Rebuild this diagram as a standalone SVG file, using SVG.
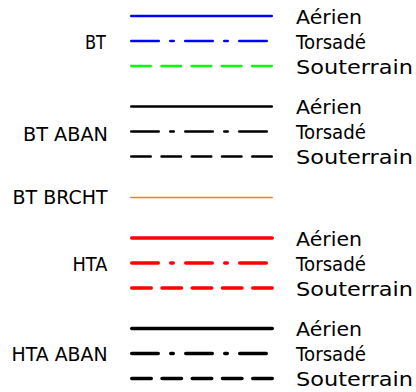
<svg xmlns="http://www.w3.org/2000/svg" width="416" height="392" viewBox="0 0 416 392">
<style>
text{font-family:"DejaVu Sans","Liberation Sans",sans-serif;font-size:19.5px;fill:#000}
.ln{fill:none;stroke-linecap:round}
.w2{stroke-width:2.5}
.w3{stroke-width:3.5}
.w1{stroke-width:1.5}
.blue{stroke:#0000FF}
.green{stroke:#00FF00}
.black{stroke:#000}
.red{stroke:#FF0000}
.orange{stroke:#FF7F00}
.t2{stroke-dasharray:27.5 11.5 3.5 11.5}
.s2{stroke-dasharray:19.5 10.75}
.t3{stroke-dasharray:26.5 12.5 2.5 12.5}
.s3{stroke-dasharray:19.5 10.75}
</style>
<rect width="416" height="392" fill="#fff"/>
<g id="bt">
<text x="85" y="49" textLength="21" lengthAdjust="spacingAndGlyphs">BT</text>
<path class="ln w2 blue" d="M131.25 16H271.75"/>
<path class="ln w2 blue t2" d="M131.25 41H266.75"/>
<path class="ln w2 green s2" d="M131.25 66H271.75"/>
<text x="296" y="23.5" textLength="66" lengthAdjust="spacingAndGlyphs">Aérien</text>
<text x="296" y="48.5" textLength="70" lengthAdjust="spacingAndGlyphs">Torsadé</text>
<text x="296" y="73.5" textLength="117" lengthAdjust="spacingAndGlyphs">Souterrain</text>
</g>
<g id="bt-aban">
<text x="23" y="140.5" textLength="85" lengthAdjust="spacingAndGlyphs">BT ABAN</text>
<path class="ln w2 black" d="M131.25 106.5H271.75"/>
<path class="ln w2 black t2" d="M131.25 131.5H266.75"/>
<path class="ln w2 black s2" d="M131.25 156.5H271.75"/>
<text x="296" y="114" textLength="66" lengthAdjust="spacingAndGlyphs">Aérien</text>
<text x="296" y="139" textLength="70" lengthAdjust="spacingAndGlyphs">Torsadé</text>
<text x="296" y="164" textLength="117" lengthAdjust="spacingAndGlyphs">Souterrain</text>
</g>
<g id="bt-brcht">
<text x="12.5" y="203.5" textLength="95" lengthAdjust="spacingAndGlyphs">BT BRCHT</text>
<path class="ln w1 orange" d="M130.75 197.5H272.25"/>
</g>
<g id="hta">
<text x="72.5" y="270.5" textLength="35" lengthAdjust="spacingAndGlyphs">HTA</text>
<path class="ln w3 red" d="M131.75 238H272.25"/>
<path class="ln w3 red t3" d="M131.75 263H267.25"/>
<path class="ln w3 red s3" d="M131.75 288H272.25"/>
<text x="296" y="245.5" textLength="66" lengthAdjust="spacingAndGlyphs">Aérien</text>
<text x="296" y="270.5" textLength="70" lengthAdjust="spacingAndGlyphs">Torsadé</text>
<text x="296" y="295.5" textLength="117" lengthAdjust="spacingAndGlyphs">Souterrain</text>
</g>
<g id="hta-aban">
<text x="11.5" y="361" textLength="96" lengthAdjust="spacingAndGlyphs">HTA ABAN</text>
<path class="ln w3 black" d="M131.75 328.5H272.25"/>
<path class="ln w3 black t3" d="M131.75 353.5H267.25"/>
<path class="ln w3 black s3" d="M131.75 378.5H272.25"/>
<text x="296" y="336" textLength="66" lengthAdjust="spacingAndGlyphs">Aérien</text>
<text x="296" y="361" textLength="70" lengthAdjust="spacingAndGlyphs">Torsadé</text>
<text x="296" y="386" textLength="117" lengthAdjust="spacingAndGlyphs">Souterrain</text>
</g>
<g id="connectors"></g>
</svg>
